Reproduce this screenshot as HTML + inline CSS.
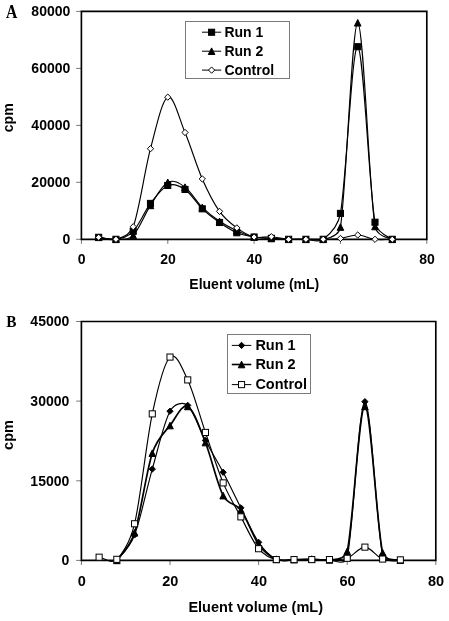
<!DOCTYPE html>
<html><head><meta charset="utf-8"><style>
html,body{margin:0;padding:0;background:#fff;}
svg{display:block;will-change:transform;}
</style></head><body>
<svg width="449" height="621" viewBox="0 0 449 621">
<rect width="449" height="621" fill="#fff"/>
<g font-family='"Liberation Sans", sans-serif' font-weight="bold" fill="#000">
<line x1="76.2" y1="239.3" x2="81.4" y2="239.3" stroke="#777" stroke-width="1"/>
<text x="70.3" y="244.2" font-size="14" text-anchor="end">0</text>
<line x1="76.2" y1="182.3" x2="81.4" y2="182.3" stroke="#777" stroke-width="1"/>
<text x="70.3" y="187.2" font-size="14" text-anchor="end">20000</text>
<line x1="76.2" y1="125.4" x2="81.4" y2="125.4" stroke="#777" stroke-width="1"/>
<text x="70.3" y="130.2" font-size="14" text-anchor="end">40000</text>
<line x1="76.2" y1="68.4" x2="81.4" y2="68.4" stroke="#777" stroke-width="1"/>
<text x="70.3" y="73.2" font-size="14" text-anchor="end">60000</text>
<line x1="76.2" y1="11.4" x2="81.4" y2="11.4" stroke="#777" stroke-width="1"/>
<text x="70.3" y="16.3" font-size="14" text-anchor="end">80000</text>
<line x1="81.4" y1="239.3" x2="81.4" y2="243.9" stroke="#777" stroke-width="1"/>
<text x="81.7" y="264.0" font-size="14" text-anchor="middle">0</text>
<line x1="167.8" y1="239.3" x2="167.8" y2="243.9" stroke="#777" stroke-width="1"/>
<text x="168.1" y="264.0" font-size="14" text-anchor="middle">20</text>
<line x1="254.1" y1="239.3" x2="254.1" y2="243.9" stroke="#777" stroke-width="1"/>
<text x="254.4" y="264.0" font-size="14" text-anchor="middle">40</text>
<line x1="340.5" y1="239.3" x2="340.5" y2="243.9" stroke="#777" stroke-width="1"/>
<text x="340.8" y="264.0" font-size="14" text-anchor="middle">60</text>
<line x1="426.8" y1="239.3" x2="426.8" y2="243.9" stroke="#777" stroke-width="1"/>
<text x="427.1" y="264.0" font-size="14" text-anchor="middle">80</text>
<line x1="76.2" y1="560.4" x2="81.4" y2="560.4" stroke="#777" stroke-width="1"/>
<text x="69.3" y="565.2" font-size="14" text-anchor="end">0</text>
<line x1="76.2" y1="480.8" x2="81.4" y2="480.8" stroke="#777" stroke-width="1"/>
<text x="69.3" y="485.6" font-size="14" text-anchor="end">15000</text>
<line x1="76.2" y1="401.1" x2="81.4" y2="401.1" stroke="#777" stroke-width="1"/>
<text x="69.3" y="406.0" font-size="14" text-anchor="end">30000</text>
<line x1="76.2" y1="321.5" x2="81.4" y2="321.5" stroke="#777" stroke-width="1"/>
<text x="69.3" y="326.4" font-size="14" text-anchor="end">45000</text>
<line x1="81.4" y1="560.4" x2="81.4" y2="565.0" stroke="#777" stroke-width="1"/>
<text x="81.7" y="586.2" font-size="14.5" text-anchor="middle">0</text>
<line x1="170.0" y1="560.4" x2="170.0" y2="565.0" stroke="#777" stroke-width="1"/>
<text x="170.3" y="586.2" font-size="14.5" text-anchor="middle">20</text>
<line x1="258.6" y1="560.4" x2="258.6" y2="565.0" stroke="#777" stroke-width="1"/>
<text x="258.9" y="586.2" font-size="14.5" text-anchor="middle">40</text>
<line x1="347.2" y1="560.4" x2="347.2" y2="565.0" stroke="#777" stroke-width="1"/>
<text x="347.5" y="586.2" font-size="14.5" text-anchor="middle">60</text>
<line x1="435.8" y1="560.4" x2="435.8" y2="565.0" stroke="#777" stroke-width="1"/>
<text x="436.1" y="586.2" font-size="14.5" text-anchor="middle">80</text>
<text x="254.3" y="288.7" font-size="14" text-anchor="middle">Eluent volume (mL)</text>
<text x="255.7" y="612.2" font-size="14.5" text-anchor="middle">Eluent volume (mL)</text>
<text transform="translate(12.8,117.8) rotate(-90)" font-size="14.1" text-anchor="middle">cpm</text>
<text transform="translate(13.2,435) rotate(-90)" font-size="14.5" text-anchor="middle">cpm</text>
</g>
<g font-family='"Liberation Serif", serif' font-weight="bold" font-size="17.5" fill="#000">
<text transform="translate(5.9,17.6) scale(0.92,1.08)" font-size="17">A</text>
<text transform="translate(6.3,326.8) scale(0.9,0.98)" font-size="17">B</text>
</g>
<path d="M81.4,11.4 H426.8 V239.3 H81.4 Z" fill="none" stroke="#000" stroke-width="1.65"/>
<path d="M81.4,321.5 H435.8 V560.4 H81.4 Z" fill="none" stroke="#000" stroke-width="1.65"/>
<path d="M98.67,237.31 C104.43,237.97 110.18,240.30 115.94,239.30 C121.70,238.30 127.45,237.31 133.21,231.32 C138.97,225.34 144.72,211.05 150.48,203.41 C156.24,195.76 161.99,187.79 167.75,185.46 C173.51,183.13 179.26,185.55 185.02,189.45 C190.78,193.34 196.53,203.31 202.29,208.82 C208.05,214.33 213.80,218.50 219.56,222.49 C225.32,226.48 231.07,230.33 236.83,232.75 C242.59,235.17 248.34,236.10 254.10,237.02 C259.86,237.95 265.61,237.92 271.37,238.30 C277.13,238.68 282.88,239.13 288.64,239.30 C294.40,239.47 300.15,239.30 305.91,239.30 C311.67,239.30 317.42,243.62 323.18,239.30 C325.93,237.24 337.70,228.71 340.45,213.38 C346.21,181.28 351.96,45.25 357.72,46.72 C363.48,48.20 369.23,190.11 374.99,222.21 C377.13,234.17 391.19,238.24 392.26,239.30" fill="none" stroke="#000" stroke-width="1.15"/>
<path d="M98.67,237.31 C104.43,237.97 110.18,239.63 115.94,239.30 C121.70,238.97 127.45,240.96 133.21,235.31 C138.97,229.66 144.72,214.23 150.48,205.40 C156.24,196.57 161.99,185.36 167.75,182.33 C173.51,179.29 179.26,182.99 185.02,187.17 C190.78,191.35 196.53,201.70 202.29,207.39 C208.05,213.09 213.80,217.46 219.56,221.35 C225.32,225.25 231.07,228.14 236.83,230.75 C242.59,233.37 248.34,235.74 254.10,237.02 C259.86,238.30 265.61,238.07 271.37,238.45 C277.13,238.83 282.88,239.16 288.64,239.30 C294.40,239.44 300.15,239.30 305.91,239.30 C311.67,239.30 317.42,241.34 323.18,239.30 C324.85,238.71 338.78,237.50 340.45,227.05 C346.21,190.97 351.96,22.89 357.72,22.79 C363.48,22.70 369.23,190.40 374.99,226.48 C376.68,237.10 391.41,238.67 392.26,239.30" fill="none" stroke="#000" stroke-width="1.15"/>
<path d="M98.67,237.31 C104.43,237.97 110.18,241.06 115.94,239.30 C119.74,238.14 129.41,236.74 133.21,226.77 C138.97,211.67 144.72,170.31 150.48,148.71 C156.24,127.11 161.99,99.85 167.75,97.15 C173.51,94.44 179.26,118.85 185.02,132.47 C190.78,146.10 196.53,165.75 202.29,178.91 C208.05,192.06 213.80,203.22 219.56,211.38 C225.32,219.55 231.07,223.63 236.83,227.91 C242.59,232.18 248.34,235.55 254.10,237.02 C259.86,238.49 265.61,236.36 271.37,236.74 C277.13,237.12 282.88,238.87 288.64,239.30 C294.40,239.73 300.15,239.30 305.91,239.30 C311.67,239.30 317.42,239.44 323.18,239.30 C328.94,239.16 334.69,239.16 340.45,238.45 C346.21,237.73 351.96,234.88 357.72,235.03 C363.48,235.17 369.23,238.59 374.99,239.30 C380.75,240.01 386.50,239.30 392.26,239.30" fill="none" stroke="#000" stroke-width="1.15"/>
<rect x="95.62" y="234.26" width="6.10" height="6.10" fill="#000" stroke="#000" stroke-width="1"/>
<rect x="112.89" y="236.25" width="6.10" height="6.10" fill="#000" stroke="#000" stroke-width="1"/>
<rect x="130.16" y="228.27" width="6.10" height="6.10" fill="#000" stroke="#000" stroke-width="1"/>
<rect x="147.43" y="200.36" width="6.10" height="6.10" fill="#000" stroke="#000" stroke-width="1"/>
<rect x="164.70" y="182.41" width="6.10" height="6.10" fill="#000" stroke="#000" stroke-width="1"/>
<rect x="181.97" y="186.40" width="6.10" height="6.10" fill="#000" stroke="#000" stroke-width="1"/>
<rect x="199.24" y="205.77" width="6.10" height="6.10" fill="#000" stroke="#000" stroke-width="1"/>
<rect x="216.51" y="219.44" width="6.10" height="6.10" fill="#000" stroke="#000" stroke-width="1"/>
<rect x="233.78" y="229.70" width="6.10" height="6.10" fill="#000" stroke="#000" stroke-width="1"/>
<rect x="251.05" y="233.97" width="6.10" height="6.10" fill="#000" stroke="#000" stroke-width="1"/>
<rect x="268.32" y="235.25" width="6.10" height="6.10" fill="#000" stroke="#000" stroke-width="1"/>
<rect x="285.59" y="236.25" width="6.10" height="6.10" fill="#000" stroke="#000" stroke-width="1"/>
<rect x="302.86" y="236.25" width="6.10" height="6.10" fill="#000" stroke="#000" stroke-width="1"/>
<rect x="320.13" y="236.25" width="6.10" height="6.10" fill="#000" stroke="#000" stroke-width="1"/>
<rect x="337.40" y="210.33" width="6.10" height="6.10" fill="#000" stroke="#000" stroke-width="1"/>
<rect x="354.67" y="43.67" width="6.10" height="6.10" fill="#000" stroke="#000" stroke-width="1"/>
<rect x="371.94" y="219.16" width="6.10" height="6.10" fill="#000" stroke="#000" stroke-width="1"/>
<rect x="389.21" y="236.25" width="6.10" height="6.10" fill="#000" stroke="#000" stroke-width="1"/>
<path d="M98.67,234.01 L101.97,240.61 L95.37,240.61 Z" fill="#000" stroke="#000" stroke-width="1" stroke-linejoin="miter"/>
<path d="M115.94,236.00 L119.24,242.60 L112.64,242.60 Z" fill="#000" stroke="#000" stroke-width="1" stroke-linejoin="miter"/>
<path d="M133.21,232.01 L136.51,238.61 L129.91,238.61 Z" fill="#000" stroke="#000" stroke-width="1" stroke-linejoin="miter"/>
<path d="M150.48,202.10 L153.78,208.70 L147.18,208.70 Z" fill="#000" stroke="#000" stroke-width="1" stroke-linejoin="miter"/>
<path d="M167.75,179.03 L171.05,185.63 L164.45,185.63 Z" fill="#000" stroke="#000" stroke-width="1" stroke-linejoin="miter"/>
<path d="M185.02,183.87 L188.32,190.47 L181.72,190.47 Z" fill="#000" stroke="#000" stroke-width="1" stroke-linejoin="miter"/>
<path d="M202.29,204.09 L205.59,210.69 L198.99,210.69 Z" fill="#000" stroke="#000" stroke-width="1" stroke-linejoin="miter"/>
<path d="M219.56,218.05 L222.86,224.65 L216.26,224.65 Z" fill="#000" stroke="#000" stroke-width="1" stroke-linejoin="miter"/>
<path d="M236.83,227.45 L240.13,234.05 L233.53,234.05 Z" fill="#000" stroke="#000" stroke-width="1" stroke-linejoin="miter"/>
<path d="M254.10,233.72 L257.40,240.32 L250.80,240.32 Z" fill="#000" stroke="#000" stroke-width="1" stroke-linejoin="miter"/>
<path d="M271.37,235.15 L274.67,241.75 L268.07,241.75 Z" fill="#000" stroke="#000" stroke-width="1" stroke-linejoin="miter"/>
<path d="M288.64,236.00 L291.94,242.60 L285.34,242.60 Z" fill="#000" stroke="#000" stroke-width="1" stroke-linejoin="miter"/>
<path d="M305.91,236.00 L309.21,242.60 L302.61,242.60 Z" fill="#000" stroke="#000" stroke-width="1" stroke-linejoin="miter"/>
<path d="M323.18,236.00 L326.48,242.60 L319.88,242.60 Z" fill="#000" stroke="#000" stroke-width="1" stroke-linejoin="miter"/>
<path d="M340.45,223.75 L343.75,230.35 L337.15,230.35 Z" fill="#000" stroke="#000" stroke-width="1" stroke-linejoin="miter"/>
<path d="M357.72,19.49 L361.02,26.09 L354.42,26.09 Z" fill="#000" stroke="#000" stroke-width="1" stroke-linejoin="miter"/>
<path d="M374.99,223.18 L378.29,229.78 L371.69,229.78 Z" fill="#000" stroke="#000" stroke-width="1" stroke-linejoin="miter"/>
<path d="M392.26,236.00 L395.56,242.60 L388.96,242.60 Z" fill="#000" stroke="#000" stroke-width="1" stroke-linejoin="miter"/>
<path d="M98.67,234.16 L101.82,237.31 L98.67,240.46 L95.52,237.31 Z" fill="#fff" stroke="#000" stroke-width="1"/>
<path d="M115.94,236.15 L119.09,239.30 L115.94,242.45 L112.79,239.30 Z" fill="#fff" stroke="#000" stroke-width="1"/>
<path d="M133.21,223.62 L136.36,226.77 L133.21,229.92 L130.06,226.77 Z" fill="#fff" stroke="#000" stroke-width="1"/>
<path d="M150.48,145.56 L153.63,148.71 L150.48,151.86 L147.33,148.71 Z" fill="#fff" stroke="#000" stroke-width="1"/>
<path d="M167.75,94.00 L170.90,97.15 L167.75,100.30 L164.60,97.15 Z" fill="#fff" stroke="#000" stroke-width="1"/>
<path d="M185.02,129.32 L188.17,132.47 L185.02,135.62 L181.87,132.47 Z" fill="#fff" stroke="#000" stroke-width="1"/>
<path d="M202.29,175.76 L205.44,178.91 L202.29,182.06 L199.14,178.91 Z" fill="#fff" stroke="#000" stroke-width="1"/>
<path d="M219.56,208.23 L222.71,211.38 L219.56,214.53 L216.41,211.38 Z" fill="#fff" stroke="#000" stroke-width="1"/>
<path d="M236.83,224.75 L239.98,227.91 L236.83,231.06 L233.68,227.91 Z" fill="#fff" stroke="#000" stroke-width="1"/>
<path d="M254.10,233.87 L257.25,237.02 L254.10,240.17 L250.95,237.02 Z" fill="#fff" stroke="#000" stroke-width="1"/>
<path d="M271.37,233.59 L274.52,236.74 L271.37,239.89 L268.22,236.74 Z" fill="#fff" stroke="#000" stroke-width="1"/>
<path d="M288.64,236.15 L291.79,239.30 L288.64,242.45 L285.49,239.30 Z" fill="#fff" stroke="#000" stroke-width="1"/>
<path d="M305.91,236.15 L309.06,239.30 L305.91,242.45 L302.76,239.30 Z" fill="#fff" stroke="#000" stroke-width="1"/>
<path d="M323.18,236.15 L326.33,239.30 L323.18,242.45 L320.03,239.30 Z" fill="#fff" stroke="#000" stroke-width="1"/>
<path d="M340.45,235.30 L343.60,238.45 L340.45,241.60 L337.30,238.45 Z" fill="#fff" stroke="#000" stroke-width="1"/>
<path d="M357.72,231.88 L360.87,235.03 L357.72,238.18 L354.57,235.03 Z" fill="#fff" stroke="#000" stroke-width="1"/>
<path d="M374.99,236.15 L378.14,239.30 L374.99,242.45 L371.84,239.30 Z" fill="#fff" stroke="#000" stroke-width="1"/>
<path d="M392.26,236.15 L395.41,239.30 L392.26,242.45 L389.11,239.30 Z" fill="#fff" stroke="#000" stroke-width="1"/>
<path d="M116.84,560.40 C119.65,556.36 128.94,549.38 134.56,534.92 C140.47,519.70 146.37,489.70 152.28,469.09 C158.19,448.47 164.09,421.84 170.00,411.22 C174.54,403.07 183.18,401.64 187.72,405.38 C193.63,410.25 199.53,429.27 205.44,440.42 C211.35,451.57 217.25,461.04 223.16,472.27 C229.07,483.51 234.97,496.16 240.88,507.84 C246.79,519.52 252.69,533.77 258.60,542.35 C264.51,550.93 270.41,556.42 276.32,559.34 C282.23,562.26 288.13,559.78 294.04,559.87 C299.95,559.96 305.85,559.87 311.76,559.87 C317.67,559.87 323.57,560.22 329.48,559.87 C331.43,559.75 345.25,566.45 347.20,557.75 C353.11,531.38 359.01,402.11 364.92,401.66 C370.83,401.22 376.73,528.68 382.64,555.09 C384.65,564.08 399.35,559.85 400.36,560.13" fill="none" stroke="#000" stroke-width="1.15"/>
<path d="M116.84,560.40 C119.41,556.39 129.41,548.37 134.56,532.79 C140.47,514.92 146.37,471.03 152.28,453.16 C157.43,437.59 164.85,432.34 170.00,425.55 C175.91,417.77 181.81,403.61 187.72,406.44 C193.63,409.27 199.53,427.68 205.44,442.54 C211.35,457.41 217.25,484.39 223.16,495.63 C228.46,505.72 235.58,502.66 240.88,509.97 C246.79,518.11 252.69,536.24 258.60,544.47 C264.51,552.70 270.41,556.82 276.32,559.34 C282.23,561.86 288.13,559.65 294.04,559.60 C299.95,559.56 305.85,559.03 311.76,559.07 C317.67,559.12 323.57,561.15 329.48,559.87 C331.69,559.39 344.99,560.95 347.20,551.37 C353.11,525.80 359.01,406.22 364.92,406.44 C370.83,406.66 376.73,527.09 382.64,552.70 C384.80,562.06 399.28,559.68 400.36,560.13" fill="none" stroke="#000" stroke-width="1.70"/>
<path d="M99.12,557.21 C105.03,557.92 110.93,564.91 116.84,559.34 C121.54,554.90 129.86,543.07 134.56,523.77 C140.47,499.52 146.37,441.66 152.28,413.87 C158.19,386.09 164.09,362.73 170.00,357.07 C175.91,351.41 181.81,367.33 187.72,379.90 C193.63,392.46 199.53,415.29 205.44,432.46 C211.35,449.62 217.25,468.82 223.16,482.89 C229.07,496.96 234.97,505.90 240.88,516.87 C246.79,527.84 252.69,541.60 258.60,548.72 C264.51,555.84 270.41,557.79 276.32,559.60 C282.23,561.42 288.13,559.60 294.04,559.60 C299.95,559.60 305.85,559.60 311.76,559.60 C317.67,559.60 323.57,559.82 329.48,559.60 C335.39,559.38 341.29,560.36 347.20,558.28 C353.11,556.20 359.01,547.00 364.92,547.13 C370.83,547.26 376.73,556.95 382.64,559.07 C388.55,561.20 394.45,559.60 400.36,559.87" fill="none" stroke="#000" stroke-width="1.15"/>
<path d="M116.84,557.25 L119.99,560.40 L116.84,563.55 L113.69,560.40 Z" fill="#000" stroke="#000" stroke-width="1"/>
<path d="M134.56,531.77 L137.71,534.92 L134.56,538.07 L131.41,534.92 Z" fill="#000" stroke="#000" stroke-width="1"/>
<path d="M152.28,465.94 L155.43,469.09 L152.28,472.24 L149.13,469.09 Z" fill="#000" stroke="#000" stroke-width="1"/>
<path d="M170.00,408.07 L173.15,411.22 L170.00,414.37 L166.85,411.22 Z" fill="#000" stroke="#000" stroke-width="1"/>
<path d="M187.72,402.23 L190.87,405.38 L187.72,408.53 L184.57,405.38 Z" fill="#000" stroke="#000" stroke-width="1"/>
<path d="M205.44,437.27 L208.59,440.42 L205.44,443.57 L202.29,440.42 Z" fill="#000" stroke="#000" stroke-width="1"/>
<path d="M223.16,469.12 L226.31,472.27 L223.16,475.42 L220.01,472.27 Z" fill="#000" stroke="#000" stroke-width="1"/>
<path d="M240.88,504.69 L244.03,507.84 L240.88,510.99 L237.73,507.84 Z" fill="#000" stroke="#000" stroke-width="1"/>
<path d="M258.60,539.20 L261.75,542.35 L258.60,545.50 L255.45,542.35 Z" fill="#000" stroke="#000" stroke-width="1"/>
<path d="M276.32,556.19 L279.47,559.34 L276.32,562.49 L273.17,559.34 Z" fill="#000" stroke="#000" stroke-width="1"/>
<path d="M294.04,556.72 L297.19,559.87 L294.04,563.02 L290.89,559.87 Z" fill="#000" stroke="#000" stroke-width="1"/>
<path d="M311.76,556.72 L314.91,559.87 L311.76,563.02 L308.61,559.87 Z" fill="#000" stroke="#000" stroke-width="1"/>
<path d="M329.48,556.72 L332.63,559.87 L329.48,563.02 L326.33,559.87 Z" fill="#000" stroke="#000" stroke-width="1"/>
<path d="M347.20,554.60 L350.35,557.75 L347.20,560.90 L344.05,557.75 Z" fill="#000" stroke="#000" stroke-width="1"/>
<path d="M364.92,398.51 L368.07,401.66 L364.92,404.81 L361.77,401.66 Z" fill="#000" stroke="#000" stroke-width="1"/>
<path d="M382.64,551.94 L385.79,555.09 L382.64,558.24 L379.49,555.09 Z" fill="#000" stroke="#000" stroke-width="1"/>
<path d="M400.36,556.98 L403.51,560.13 L400.36,563.28 L397.21,560.13 Z" fill="#000" stroke="#000" stroke-width="1"/>
<path d="M116.84,557.10 L120.14,563.70 L113.54,563.70 Z" fill="#000" stroke="#000" stroke-width="1" stroke-linejoin="miter"/>
<path d="M134.56,529.49 L137.86,536.09 L131.26,536.09 Z" fill="#000" stroke="#000" stroke-width="1" stroke-linejoin="miter"/>
<path d="M152.28,449.86 L155.58,456.46 L148.98,456.46 Z" fill="#000" stroke="#000" stroke-width="1" stroke-linejoin="miter"/>
<path d="M170.00,422.25 L173.30,428.85 L166.70,428.85 Z" fill="#000" stroke="#000" stroke-width="1" stroke-linejoin="miter"/>
<path d="M187.72,403.14 L191.02,409.74 L184.42,409.74 Z" fill="#000" stroke="#000" stroke-width="1" stroke-linejoin="miter"/>
<path d="M205.44,439.24 L208.74,445.84 L202.14,445.84 Z" fill="#000" stroke="#000" stroke-width="1" stroke-linejoin="miter"/>
<path d="M223.16,492.33 L226.46,498.93 L219.86,498.93 Z" fill="#000" stroke="#000" stroke-width="1" stroke-linejoin="miter"/>
<path d="M240.88,506.67 L244.18,513.27 L237.58,513.27 Z" fill="#000" stroke="#000" stroke-width="1" stroke-linejoin="miter"/>
<path d="M258.60,541.17 L261.90,547.77 L255.30,547.77 Z" fill="#000" stroke="#000" stroke-width="1" stroke-linejoin="miter"/>
<path d="M276.32,556.04 L279.62,562.64 L273.02,562.64 Z" fill="#000" stroke="#000" stroke-width="1" stroke-linejoin="miter"/>
<path d="M294.04,556.30 L297.34,562.90 L290.74,562.90 Z" fill="#000" stroke="#000" stroke-width="1" stroke-linejoin="miter"/>
<path d="M311.76,555.77 L315.06,562.37 L308.46,562.37 Z" fill="#000" stroke="#000" stroke-width="1" stroke-linejoin="miter"/>
<path d="M329.48,556.57 L332.78,563.17 L326.18,563.17 Z" fill="#000" stroke="#000" stroke-width="1" stroke-linejoin="miter"/>
<path d="M347.20,548.07 L350.50,554.67 L343.90,554.67 Z" fill="#000" stroke="#000" stroke-width="1" stroke-linejoin="miter"/>
<path d="M364.92,403.14 L368.22,409.74 L361.62,409.74 Z" fill="#000" stroke="#000" stroke-width="1" stroke-linejoin="miter"/>
<path d="M382.64,549.40 L385.94,556.00 L379.34,556.00 Z" fill="#000" stroke="#000" stroke-width="1" stroke-linejoin="miter"/>
<path d="M400.36,556.83 L403.66,563.43 L397.06,563.43 Z" fill="#000" stroke="#000" stroke-width="1" stroke-linejoin="miter"/>
<rect x="96.07" y="554.16" width="6.10" height="6.10" fill="#fff" stroke="#000" stroke-width="1"/>
<rect x="113.79" y="556.29" width="6.10" height="6.10" fill="#fff" stroke="#000" stroke-width="1"/>
<rect x="131.51" y="520.72" width="6.10" height="6.10" fill="#fff" stroke="#000" stroke-width="1"/>
<rect x="149.23" y="410.82" width="6.10" height="6.10" fill="#fff" stroke="#000" stroke-width="1"/>
<rect x="166.95" y="354.02" width="6.10" height="6.10" fill="#fff" stroke="#000" stroke-width="1"/>
<rect x="184.67" y="376.85" width="6.10" height="6.10" fill="#fff" stroke="#000" stroke-width="1"/>
<rect x="202.39" y="429.41" width="6.10" height="6.10" fill="#fff" stroke="#000" stroke-width="1"/>
<rect x="220.11" y="479.84" width="6.10" height="6.10" fill="#fff" stroke="#000" stroke-width="1"/>
<rect x="237.83" y="513.82" width="6.10" height="6.10" fill="#fff" stroke="#000" stroke-width="1"/>
<rect x="255.55" y="545.67" width="6.10" height="6.10" fill="#fff" stroke="#000" stroke-width="1"/>
<rect x="273.27" y="556.55" width="6.10" height="6.10" fill="#fff" stroke="#000" stroke-width="1"/>
<rect x="290.99" y="556.55" width="6.10" height="6.10" fill="#fff" stroke="#000" stroke-width="1"/>
<rect x="308.71" y="556.55" width="6.10" height="6.10" fill="#fff" stroke="#000" stroke-width="1"/>
<rect x="326.43" y="556.55" width="6.10" height="6.10" fill="#fff" stroke="#000" stroke-width="1"/>
<rect x="344.15" y="555.23" width="6.10" height="6.10" fill="#fff" stroke="#000" stroke-width="1"/>
<rect x="361.87" y="544.08" width="6.10" height="6.10" fill="#fff" stroke="#000" stroke-width="1"/>
<rect x="379.59" y="556.02" width="6.10" height="6.10" fill="#fff" stroke="#000" stroke-width="1"/>
<rect x="397.31" y="556.82" width="6.10" height="6.10" fill="#fff" stroke="#000" stroke-width="1"/>
<rect x="185.5" y="21.5" width="104.0" height="57.0" fill="#fff" stroke="#7a7a7a" stroke-width="1"/>
<line x1="202.0" y1="32.2" x2="221.2" y2="32.2" stroke="#000" stroke-width="1"/>
<rect x="208.55" y="29.20" width="6.10" height="6.10" fill="#000" stroke="#000" stroke-width="1"/>
<text x="224.4" y="36.8" font-family='"Liberation Sans", sans-serif' font-weight="bold" font-size="14">Run 1</text>
<line x1="202.0" y1="51.2" x2="221.2" y2="51.2" stroke="#000" stroke-width="1"/>
<path d="M211.60,47.90 L214.90,54.50 L208.30,54.50 Z" fill="#000" stroke="#000" stroke-width="1" stroke-linejoin="miter"/>
<text x="224.4" y="55.7" font-family='"Liberation Sans", sans-serif' font-weight="bold" font-size="14">Run 2</text>
<line x1="202.0" y1="70.1" x2="221.2" y2="70.1" stroke="#000" stroke-width="1"/>
<path d="M211.60,66.95 L214.75,70.10 L211.60,73.25 L208.45,70.10 Z" fill="#fff" stroke="#000" stroke-width="1"/>
<text x="224.4" y="74.6" font-family='"Liberation Sans", sans-serif' font-weight="bold" font-size="14">Control</text>
<rect x="227.5" y="334.5" width="83.0" height="59.0" fill="#fff" stroke="#7a7a7a" stroke-width="1"/>
<line x1="231.8" y1="345.4" x2="251.3" y2="345.4" stroke="#000" stroke-width="1"/>
<path d="M241.55,342.25 L244.70,345.40 L241.55,348.55 L238.40,345.40 Z" fill="#000" stroke="#000" stroke-width="1"/>
<text x="255.4" y="349.9" font-family='"Liberation Sans", sans-serif' font-weight="bold" font-size="14.5">Run 1</text>
<line x1="231.8" y1="364.5" x2="251.3" y2="364.5" stroke="#000" stroke-width="1.6"/>
<path d="M241.55,361.20 L244.85,367.80 L238.25,367.80 Z" fill="#000" stroke="#000" stroke-width="1" stroke-linejoin="miter"/>
<text x="255.4" y="369.0" font-family='"Liberation Sans", sans-serif' font-weight="bold" font-size="14.5">Run 2</text>
<line x1="231.8" y1="384.6" x2="251.3" y2="384.6" stroke="#000" stroke-width="1"/>
<rect x="238.50" y="381.55" width="6.10" height="6.10" fill="#fff" stroke="#000" stroke-width="1"/>
<text x="255.4" y="389.1" font-family='"Liberation Sans", sans-serif' font-weight="bold" font-size="14.5">Control</text>
</svg>
</body></html>
